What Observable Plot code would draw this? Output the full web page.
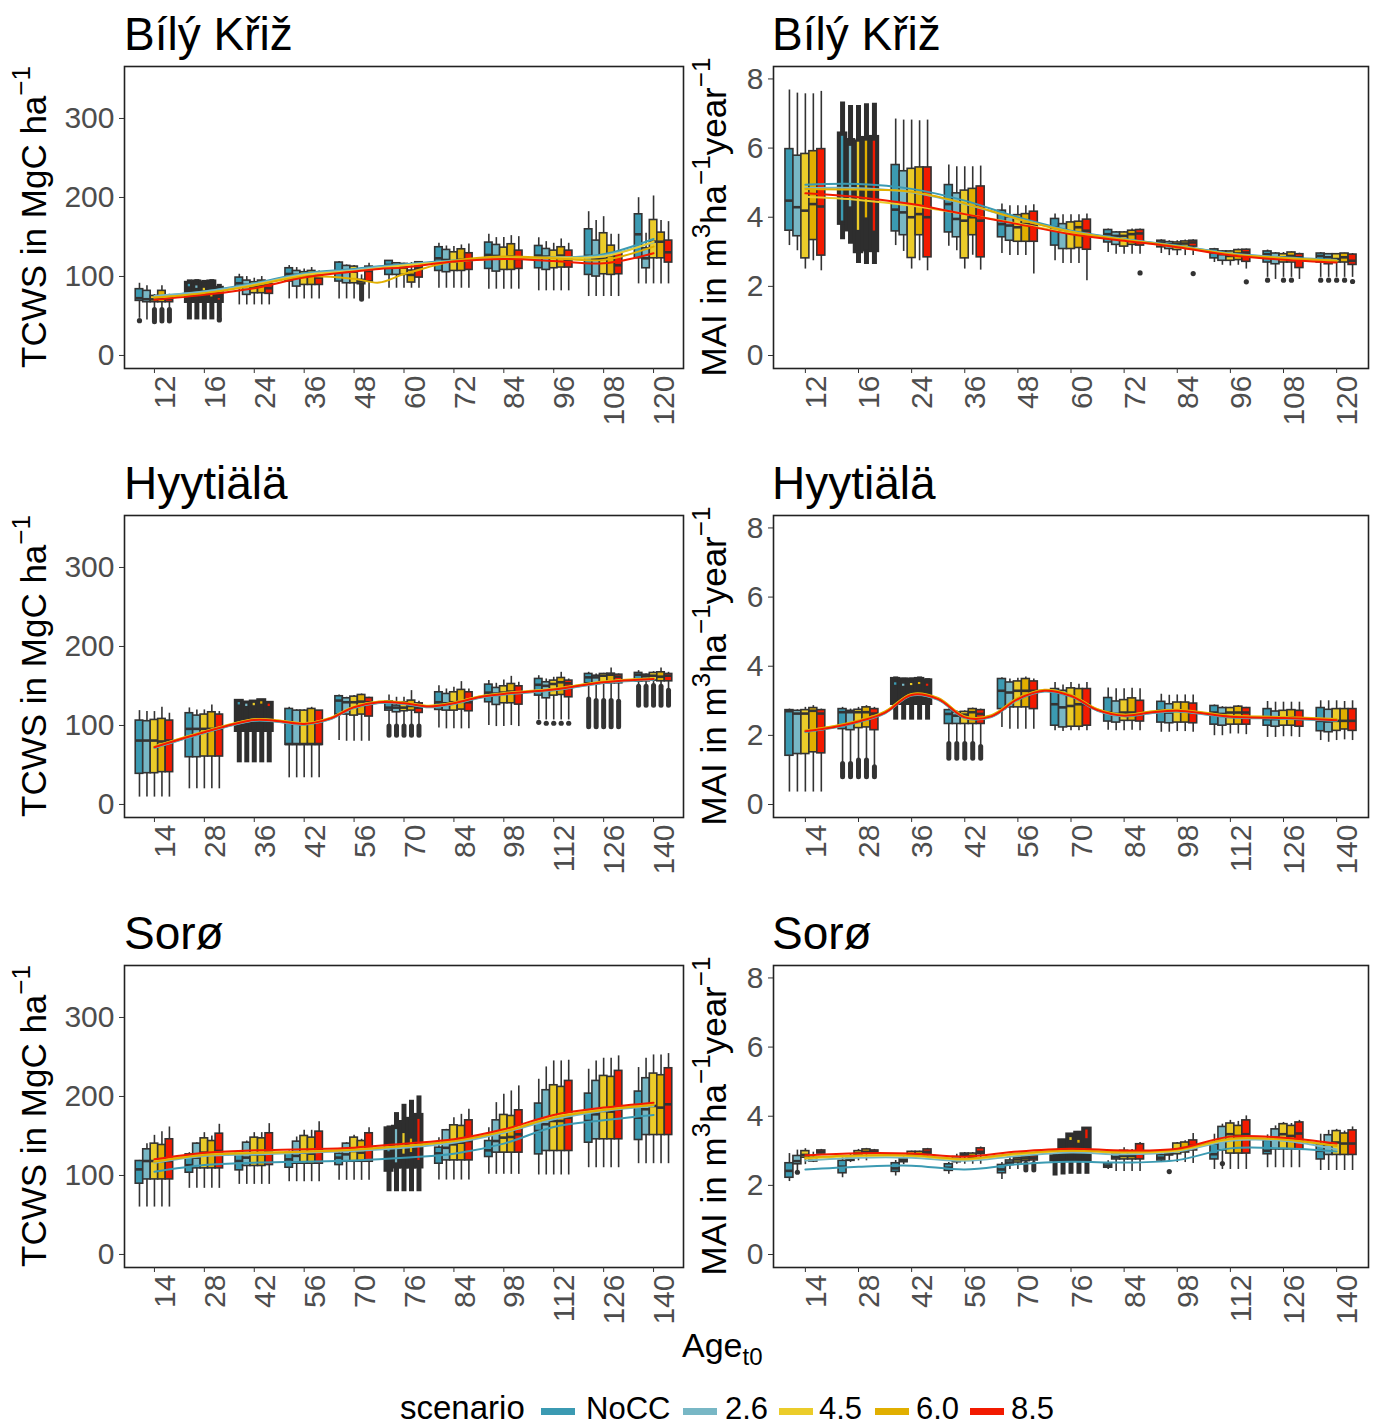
<!DOCTYPE html>
<html><head><meta charset="utf-8">
<script src="https://cdn.jsdelivr.net/npm/d3@7"></script>
<script src="https://cdn.jsdelivr.net/npm/@observablehq/plot@0.6"></script>
<style>
body{margin:0;background:#fff;}
#page{position:relative;width:1379px;height:1428px;overflow:hidden;font-family:"Liberation Sans",Arial,sans-serif;background:#fff;}
.panel{position:absolute;}
#overlay{position:absolute;left:0;top:0;}
</style></head><body><div id="page"></div>
<script>
const scenarios = ["NoCC","2.6","4.5","6.0","8.5"];
const colors = ["#3B9AB2","#78B7C5","#EBCC2A","#E1AF00","#F21A00"];
const agesBK = ["12","16","24","36","48","60","72","84","96","108","120"];
const agesHY = ["14","28","36","42","56","70","84","98","112","126","140"];
const agesSO = ["14","28","42","56","70","76","84","98","112","126","140"];
const tcwsTicks = [0,100,200,300];
const maiTicks = [0,2,4,6,8];

// box stats per age group, per scenario: [lower whisker, q1, median, q3, upper whisker]
const bkTcwsBoxes = [
 [[47,69.1,72.5,83.9,91.4],[45,67.4,71.2,81.8,88.1],[57.7,67.4,71,75.4,77],[57.7,67.4,72,81.8,88.1],[57.7,67.4,71.6,75.4,77.5]],
 [[45,67.4,78,92.3,95.7],[45,67.4,78,94,96],[45,67.4,78,92.7,95],[45,67.4,78,94,96],[45,67.4,78,86,90]],
 [[64,86,91.4,98.6,102.8],[64,76.7,89.3,94.8,99.9],[64,78.8,87.2,92.7,97.8],[64,78.8,88.5,94.8,99.9],[64,78,85.1,90.2,93.6]],
 [[71.6,93.6,103.2,110.4,113.8],[71.6,87.2,102,107,111.3],[71.6,89.3,100.7,105.4,109.6],[71.6,89.3,102,107,111.3],[71.6,89.3,98.6,104,107]],
 [[71.6,93.6,105.4,117.6,118.8],[71.6,91.4,107.5,113.4,114.6],[71.6,91.4,106,112.5,113.8],[89.3,90.2,93.6,95.7,102],[71.6,93.6,107,112.5,116.7]],
 [[85.1,102,114.6,119.7,120.1],[85.1,102,113.8,116.7,117.6],[85.1,102,111.3,115.9,116.7],[85.1,92.3,102,107.5,117.6],[85.1,98.6,110.4,118,118.8]],
 [[85.1,107,123,137,142],[85.1,105.4,120.9,133.6,138.6],[85.1,107,118.8,130.6,137.8],[85.1,107,120.9,134.4,139.9],[85.1,108.3,120,129.4,141.2]],
 [[83.9,109.6,127.3,142.9,153.4],[83.9,106.2,126,139.9,149.2],[83.9,108.3,123,136.5,149.2],[83.9,108.3,125.2,140.8,151.7],[83.9,109.6,122.2,132.7,150.4]],
 [[81.8,110.4,126.4,138.6,149],[81.8,108.3,125.2,134.8,144.1],[81.8,110.4,123.9,132.7,142],[81.8,111.3,126.4,137,147.5],[81.8,111.3,120.9,132.7,142]],
 [[74.6,102,126,159.7,182],[74.6,99.9,122.6,145.4,170.7],[74.6,102.8,122.6,154.7,175.7],[74.6,102,126.8,139,153.4],[74.6,102.8,114.2,130.2,153.4]],
 [[90.6,123,153.4,178.7,199.7],[90.6,110.4,123,135.7,154.7],[90.6,123,144.1,171.5,201.9],[90.6,123,144,155.5,170.7],[90.6,117.6,130.6,145.4,169.4]]
];
const bkMaiBoxes = [
 [[3.18,3.61,4.48,5.97,7.68],[3.03,3.45,4.29,5.78,7.59],[2.5,2.81,4.19,5.83,7.57],[2.74,3.34,4.38,5.91,7.57],[2.45,2.89,4.31,5.97,7.64]],
 [[3.35,3.8,4.4,6.43,7.33],[3.22,3.61,4.4,6.24,7.23],[2.66,2.98,4.4,6.2,7.23],[2.63,3.03,4.4,6.3,7.28],[2.63,3.01,4.4,6.33,7.3]],
 [[3.18,3.59,4.22,5.51,6.84],[3.01,3.48,4.14,5.33,6.81],[2.5,2.82,4.0,5.4,6.81],[2.74,3.48,4.09,5.44,6.79],[2.45,2.84,4.0,5.44,6.81]],
 [[3.16,3.56,4.38,4.93,5.51],[3.03,3.42,3.95,4.69,5.46],[2.5,2.81,3.9,4.77,5.46],[2.9,3.48,4.0,4.82,5.46],[2.47,2.84,3.9,4.89,5.48]],
 [[2.95,3.42,3.8,4.19,4.38],[2.89,3.32,3.76,4.0,4.33],[2.89,3.29,3.71,4.06,4.33],[2.89,3.29,3.8,4.09,4.33],[2.36,3.29,3.76,4.16,4.36]],
 [[2.74,3.18,3.71,3.95,4.09],[2.66,3.08,3.61,3.8,4.07],[2.66,3.08,3.56,3.85,4.07],[2.66,3.11,3.71,3.87,4.07],[2.16,3.06,3.61,3.93,4.09]],
 [[2.98,3.27,3.51,3.63,3.66],[2.93,3.2,3.46,3.56,3.59],[2.93,3.15,3.46,3.56,3.59],[2.93,3.2,3.51,3.61,3.66],[2.93,3.18,3.53,3.63,3.66]],
 [[2.95,3.13,3.27,3.32,3.35],[2.89,3.08,3.22,3.28,3.32],[2.89,3.05,3.22,3.27,3.32],[2.89,3.11,3.24,3.3,3.34],[2.89,3.15,3.27,3.32,3.35]],
 [[2.69,2.81,2.98,3.07,3.1],[2.61,2.74,2.93,3.01,3.03],[2.59,2.74,2.88,3.01,3.03],[2.61,2.76,2.95,3.05,3.08],[2.5,2.71,2.98,3.06,3.08]],
 [[2.26,2.69,2.93,3.01,3.05],[2.2,2.64,2.84,2.95,2.98],[2.26,2.69,2.84,2.93,2.98],[2.26,2.69,2.88,2.98,3.0],[2.2,2.53,2.84,2.93,2.96]],
 [[2.26,2.69,2.88,2.95,2.98],[2.26,2.64,2.84,2.93,2.95],[2.26,2.69,2.79,2.93,2.95],[2.26,2.69,2.84,2.95,2.96],[2.26,2.62,2.74,2.92,2.95]]
];
const hyTcwsBoxes = [
 [[9.3,38.8,80.9,106.2,118.8],[9.3,39.6,80.9,105.4,117.6],[9.3,39.6,80.9,107,117.6],[9.3,40.9,79.7,108.3,123],[9.3,40.9,80.9,106.2,115.5]],
 [[19.8,59.8,95.7,115.5,122.2],[19.8,59.8,95.7,112.5,119.7],[19.8,60.7,95.7,113.8,119.7],[19.8,60.7,95.7,116.7,126],[19.8,60.7,95.7,113.8,117.6]],
 [[52.7,92.7,110,131.5,132.3],[52.7,92.7,110,129.4,130],[52.7,92.7,110,130.6,131.5],[52.7,92.7,110,132.3,133],[52.7,92.7,110,129,130]],
 [[33.7,75.4,76.5,120.9,123],[33.7,75.4,76.5,118.8,120],[33.7,75.4,76.5,118.8,120],[33.7,75.4,76.5,120.9,123],[33.7,75.4,76.5,118.8,118.8]],
 [[80.9,113.8,131.5,137,138.6],[80,113.8,129.4,134.4,135.7],[80,112.5,129.4,136.5,137.8],[80,113.8,130.2,138.6,139.9],[80,111.3,129.4,134.8,135.7]],
 [[98.6,118.8,122.6,130.6,138.6],[98.6,116.7,122.6,125.2,135.7],[98.6,118,122.6,129.4,135.7],[98.6,118.8,124.7,131.5,144.1],[98.6,115.9,122.6,128,130.6]],
 [[96.9,119.7,129.4,142,150.4],[95.7,118.8,128.1,139.9,146.2],[95.7,118.8,129.4,142,148.3],[95.7,120.1,130.6,145,155.5],[95.7,118,129.4,142,146.2]],
 [[99.9,129.4,141.6,151.7,156.8],[98.6,126,140.3,147.5,153.4],[98.6,128.1,141.6,149.6,157.6],[99.9,128.1,142.9,152.5,162.2],[98.6,126.4,141.6,149.6,154.7]],
 [[107,137.8,151.5,158.9,163],[107,134.4,150.2,154.7,158.9],[107,137.8,152.5,156.8,161],[107,138.6,154.7,160.1,167.3],[107,135.7,153.4,156.8,158.9]],
 [[133.6,153.4,160.9,165.2,167.3],[131.5,152.5,160.9,163,165.2],[131.5,153.8,163,165.2,166],[131.5,153.4,164.3,165.6,172.8],[130.6,153.4,161.8,164.3,165.2]],
 [[149.2,155.5,164.3,166.5,169.4],[149.2,155.9,162.2,164.3,165.2],[150.4,156.8,163,166.5,168.1],[149.2,155.9,161.8,167.3,172.8],[144.1,155.9,163,165.2,167.3]]
];
const hyMaiBoxes = [
 [[0.36,1.41,2.7,2.73,2.76],[0.36,1.46,2.63,2.71,2.74],[0.36,1.46,2.63,2.73,2.81],[0.36,1.51,2.71,2.79,2.86],[0.36,1.48,2.63,2.73,2.76]],
 [[1.17,2.18,2.67,2.76,2.81],[1.17,2.15,2.67,2.71,2.76],[1.27,2.21,2.67,2.74,2.81],[1.27,2.23,2.67,2.81,2.86],[1.08,2.15,2.63,2.76,2.81]],
 [[2.44,2.9,3.1,3.64,3.69],[2.44,2.9,3.1,3.62,3.66],[2.44,2.9,3.1,3.62,3.66],[2.44,2.9,3.1,3.64,3.69],[2.44,2.9,3.1,3.6,3.64]],
 [[1.75,2.33,2.62,2.73,2.76],[1.75,2.33,2.57,2.66,2.71],[1.75,2.33,2.6,2.68,2.71],[1.75,2.33,2.67,2.76,2.79],[1.66,2.33,2.62,2.73,2.76]],
 [[2.23,2.76,3.29,3.63,3.67],[2.18,2.81,3.24,3.53,3.63],[2.18,2.81,3.29,3.56,3.65],[2.18,2.81,3.29,3.63,3.69],[2.18,2.76,3.29,3.56,3.63]],
 [[2.13,2.28,2.9,3.34,3.53],[2.11,2.23,2.81,3.29,3.46],[2.13,2.25,2.85,3.36,3.53],[2.13,2.25,2.9,3.34,3.48],[2.13,2.28,2.9,3.34,3.53]],
 [[2.15,2.4,2.66,3.08,3.37],[2.13,2.37,2.62,2.98,3.35],[2.13,2.42,2.66,3.02,3.35],[2.15,2.42,2.66,3.07,3.36],[2.13,2.4,2.62,3.0,3.35]],
 [[2.09,2.37,2.71,2.97,3.19],[2.09,2.35,2.66,2.9,3.16],[2.11,2.37,2.71,2.95,3.17],[2.11,2.37,2.69,2.95,3.17],[2.09,2.35,2.66,2.92,3.17]],
 [[1.99,2.31,2.66,2.85,2.88],[1.99,2.28,2.62,2.79,2.83],[2.04,2.31,2.66,2.79,2.81],[2.04,2.31,2.66,2.83,2.86],[2.02,2.31,2.66,2.79,2.81]],
 [[1.94,2.28,2.47,2.76,2.98],[1.94,2.25,2.47,2.69,2.96],[1.96,2.28,2.5,2.71,2.96],[1.96,2.28,2.52,2.73,2.96],[1.94,2.25,2.47,2.71,2.96]],
 [[1.85,2.12,2.42,2.79,3.0],[1.8,2.09,2.4,2.74,3.0],[1.85,2.13,2.42,2.76,3.0],[1.87,2.17,2.42,2.76,2.98],[1.85,2.13,2.42,2.76,3.0]]
];
const soTcwsBoxes = [
 [[60,89.6,107.7,118.3,119.1],[60,95,118.3,133.1,140.3],[60,95,118.3,140.3,150.8],[60,95,118.3,138.6,155.5],[60,95,118.3,145.8,161.4]],
 [[83.7,103.5,113,126.7,128.9],[83.7,109,122.6,140.3,141.5],[83.7,109,128.9,147,154.2],[83.7,109,126.7,143.6,150],[83.7,109,131,152.9,164.8]],
 [[88.7,106.5,118.3,128.9,131],[88.7,112,122.6,141.5,143.6],[88.7,112,126.7,147.9,154.2],[88.7,112,126.7,147,154.2],[88.7,113.2,131,153.4,165.6]],
 [[92.1,109.8,120.4,128.9,131],[92.1,114.9,124.8,142.8,148.7],[92.1,114.9,128.9,150,157.2],[92.1,114.9,127.6,147.9,157.2],[92.1,114.9,133.1,155.5,168.1]],
 [[93.8,113.2,122.6,127.6,128.9],[93.8,117.4,126.7,140.3,141.5],[93.8,117.4,131,147.9,150.8],[93.8,117.4,128.9,143.6,145.8],[93.8,117.4,133.1,153.4,160.5]],
 [[79.4,105.6,120,160,162.7],[79.4,109.8,125,162,179.6],[79.4,109.8,125,168,190.1],[79.4,109.8,125,172,195.2],[79.4,109.8,125,177,200.7]],
 [[94.2,114.9,128,135.2,147.9],[94.2,119.1,135,157.2,158.4],[94.2,119.1,139.4,163.5,173.2],[94.2,119.1,141.5,162.7,177.4],[94.2,119.1,143.6,169.8,183.8]],
 [[101.4,123.4,131.8,143.6,160.5],[101.4,128.9,143.6,169.8,192.2],[101.4,128.9,147.9,176.6,202.8],[101.4,128.9,148.7,175.3,207],[101.4,128.9,152.1,182.5,213.4]],
 [[100.6,126.7,156.3,191,221.8],[100.6,131,164.8,207.9,237.4],[100.6,131,169,214.2,245],[100.6,131,169,212.1,245],[100.6,131,173.2,219.7,245.9]],
 [[109.8,141.5,169,203.6,234.5],[109.8,145.8,177.4,219.7,245],[109.8,145.8,181.7,226,248.4],[109.8,145.8,180.8,224.8,248.4],[109.8,145.8,183.8,232.4,251.4]],
 [[114.9,144.9,173.2,206.2,236.6],[114.9,151.2,183.8,223.1,248.4],[114.9,151.2,188,229,252.6],[114.9,151.2,185.9,226.9,252.6],[114.9,151.2,190.1,235.7,254.3]]
];
const soMaiBoxes = [
 [[2.11,2.22,2.42,2.64,2.92],[2.42,2.61,2.7,2.85,3.02],[2.6,2.8,2.88,2.99,3.06],[2.66,2.69,2.75,2.8,2.96],[2.91,2.92,2.97,3.01,3.04]],
 [[2.22,2.35,2.54,2.71,2.85],[2.66,2.71,2.75,2.78,2.9],[2.71,2.85,2.92,2.99,3.04],[2.71,2.92,2.97,3.04,3.07],[2.91,2.92,2.97,3.01,3.04]],
 [[2.27,2.39,2.49,2.64,2.72],[2.6,2.67,2.73,2.78,2.85],[2.8,2.85,2.9,2.97,2.99],[2.85,2.85,2.9,2.97,2.99],[2.85,2.9,2.97,3.04,3.07]],
 [[2.32,2.42,2.51,2.61,2.66],[2.61,2.67,2.75,2.82,2.9],[2.61,2.85,2.9,2.92,2.95],[2.61,2.8,2.85,2.92,2.95],[2.61,2.9,2.97,3.07,3.11]],
 [[2.17,2.35,2.46,2.59,2.66],[2.46,2.59,2.66,2.72,2.8],[2.46,2.66,2.75,2.8,2.85],[2.43,2.7,2.78,2.82,2.85],[2.43,2.72,2.8,2.85,2.9]],
 [[2.27,2.71,2.78,2.85,2.9],[2.3,2.71,2.9,3.31,3.33],[2.32,2.71,2.9,3.48,3.5],[2.32,2.71,2.9,3.53,3.56],[2.32,2.71,2.9,3.65,3.67]],
 [[2.46,2.51,2.57,2.63,2.71],[2.4,2.75,2.82,2.9,2.95],[2.4,2.75,2.85,3.0,3.09],[2.4,2.75,2.85,2.95,3.04],[2.4,2.75,2.97,3.19,3.24]],
 [[2.66,2.72,2.8,2.88,2.95],[2.72,2.87,2.9,2.95,3.0],[2.66,2.9,3.0,3.21,3.24],[2.66,2.95,3.02,3.24,3.29],[2.63,3.01,3.14,3.3,3.5]],
 [[2.46,2.75,2.9,3.19,3.48],[2.46,3.01,3.29,3.69,3.77],[2.46,2.92,3.48,3.79,3.88],[2.46,2.92,3.43,3.72,3.85],[2.46,2.92,3.48,3.88,4.01]],
 [[2.51,2.9,3.0,3.29,3.46],[2.51,3.04,3.38,3.62,3.72],[2.51,3.04,3.48,3.77,3.82],[2.51,3.04,3.43,3.72,3.79],[2.51,3.04,3.5,3.82,3.88]],
 [[2.43,2.75,3.0,3.19,3.48],[2.43,2.88,3.19,3.45,3.59],[2.43,2.88,3.24,3.57,3.62],[2.43,2.88,3.21,3.5,3.57],[2.43,2.88,3.21,3.59,3.69]]
];

// outliers: ranges [group, scenario, low, high]; single points [group, scenario, value]
const bkTcwsOutRanges = [[1,2,42,57.7],[1,3,43,57.7],[1,4,43,57.7],[5,3,70.4,89.3]];
const bkTcwsOutDots = [[1,0,44],[2,4,45]];
const bkMaiOutRanges = [];
const bkMaiOutDots = [[7,4,2.39],[8,4,2.37],[9,4,2.13],[10,0,2.18],[10,2,2.18],[10,3,2.18],[11,0,2.18],[11,1,2.18],[11,2,2.18],[11,3,2.18],[11,4,2.14]];
const hyTcwsOutRanges = [[6,0,87,98.6],[6,1,87,98.6],[6,2,87,98.6],[6,3,87,98.6],[6,4,87,98.6],
 [10,0,97.8,133],[10,1,97.8,131],[10,2,97.8,131],[10,3,97.8,131],[10,4,97.8,130],
 [11,0,125,149],[11,1,125,149],[11,2,125,150],[11,3,125,149],[11,4,125,144]];
const hyTcwsOutDots = [[9,0,104],[9,1,102.8],[9,2,102.8],[9,3,102.8],[9,4,102.8]];
const hyMaiOutRanges = [[2,0,0.79,1.17],[2,1,0.79,1.17],[2,2,0.79,1.27],[2,3,0.79,1.27],[2,4,0.79,1.08],
 [4,0,1.32,1.75],[4,1,1.32,1.75],[4,2,1.32,1.75],[4,3,1.32,1.75],[4,4,1.32,1.66]];
const hyMaiOutDots = [];
const soTcwsOutRanges = [];
const soTcwsOutDots = [];
const soMaiOutRanges = [[5,3,2.43,2.62],[5,4,2.43,2.62]];
const soMaiOutDots = [[8,1,2.4],[9,1,2.63],[1,1,2.38]];

// crowded (dark) groups: index, and the visible coloured slivers [scenario, low, high]
const bkTcwsDark = 2, bkMaiDark = 2, hyTcwsDark = 3, hyMaiDark = 3, soTcwsDark = 6, soMaiDark = 6;
const bkTcwsStripes = [[0,87,90],[1,85,88],[2,82,85],[3,74,77],[4,70,72]];
const bkMaiStripes = [[0,3.89,6.34],[1,4.3,6.05],[2,3.62,6.17],[3,3.98,6.2],[4,3.6,6.2]];
const hyTcwsStripes = [[0,126,129],[1,124,127],[2,125,128],[3,127,130],[4,124,127]];
const hyMaiStripes = [[0,3.45,3.52],[1,3.42,3.48],[2,3.44,3.5],[3,3.47,3.53],[4,3.42,3.48]];
const soTcwsStripes = [[0,130,134],[1,116,158],[2,127,153],[3,129,146],[4,119,171]];
const soMaiStripes = [[2,3.3,3.38],[3,3.22,3.3],[4,3.35,3.6]];

// smoothed trend lines (group positions, then values per scenario NoCC, 2.6, 4.5, 6.0, 8.5)
const bkTcwsLineX = [1,2,3,4,5,5.5,6,7,8,9,10,11];
const bkTcwsLines = [
 [74.6,80.9,91.4,104,109.6,113,115.5,120.1,123,123.9,128.1,147.5],
 [75.4,80.9,90.6,102.8,108.3,112,114.6,119.7,123,123.9,126.4,143.3],
 [73.3,78.8,89.3,102,107,110.4,113.8,118.8,123,123.9,125.2,144.1],
 [73.3,78.8,88.5,99.9,97,92.3,103,119.7,125.2,123,121,137.8],
 [70.4,76.7,85.1,98.6,106.2,109.6,111.3,118.8,122.2,119.7,116.7,129.4]
];
const bkMaiLineX = [1,2,3,4,5,6,7,8,9,10,11];
const bkMaiLines = [
 [4.94,4.96,4.82,4.48,4.0,3.61,3.37,3.18,2.95,2.84,2.76],
 [4.84,4.84,4.72,4.38,3.95,3.59,3.36,3.17,2.94,2.83,2.74],
 [4.59,4.5,4.33,4.09,3.82,3.54,3.34,3.14,2.93,2.8,2.74],
 [4.82,4.8,4.74,4.4,3.95,3.58,3.35,3.16,2.93,2.82,2.74],
 [4.69,4.58,4.38,4.09,3.8,3.51,3.32,3.13,2.9,2.77,2.69]
];
const hyTcwsLineX = [1,2,3,3.5,4,4.5,5,5.5,6,6.5,7,7.5,8,9,10,11];
const hyTcwsLines = [
 [71.5,90.5,106,104.5,101,107.4,122,128.4,127.2,123,127.2,134.8,139,144.5,153.8,158],
 [71.8,90.8,106.4,104.8,101.4,107.8,122.4,128.8,127.5,123.3,127.5,135.1,139.3,144.8,154.1,158.3],
 [73.5,92.4,108,106.4,103,109.3,124,130.4,129.1,124.9,129.1,136.7,140.9,146.4,155.7,159.9],
 [73,92,107.6,106,102.6,108.9,123.6,130,128.7,124.5,128.7,136.3,140.5,146,155.3,159.5],
 [72.5,91.4,107,105.4,102,108.3,123,129.4,128.1,123.9,128.1,135.7,139.9,145.4,154.7,158.9]
];
const hyMaiLineX = [1,1.5,2,2.5,3,3.5,4,4.5,5,5.5,6,6.5,7,7.5,8,8.5,9,10,11];
const hyMaiLines = [
 [2.1,2.21,2.38,2.64,3.15,3.03,2.5,2.53,3.03,3.27,3.12,2.71,2.55,2.64,2.69,2.61,2.52,2.48,2.42],
 [2.11,2.22,2.39,2.65,3.16,3.04,2.51,2.54,3.04,3.28,3.13,2.72,2.56,2.65,2.7,2.62,2.53,2.49,2.43],
 [2.14,2.25,2.42,2.68,3.19,3.07,2.54,2.57,3.07,3.31,3.16,2.75,2.59,2.68,2.73,2.65,2.56,2.52,2.46],
 [2.15,2.26,2.43,2.69,3.2,3.08,2.55,2.58,3.08,3.32,3.17,2.76,2.6,2.69,2.74,2.66,2.57,2.53,2.47],
 [2.12,2.23,2.4,2.66,3.17,3.05,2.52,2.55,3.05,3.29,3.14,2.73,2.57,2.66,2.71,2.63,2.54,2.5,2.44]
];
const soTcwsLineX = [1,2,3,4,5,6,7,8,9,10,11];
const soTcwsLines = [
 [104.8,113.2,116.2,117.4,119.1,122.5,127.6,140.3,161.4,169.8,176.6],
 [116.2,124.6,126.7,128.9,131,135.2,141.5,154.2,171.1,181.7,188],
 [118.3,126.7,128.9,130.1,133.1,137.3,143.6,156.3,174.1,183.8,190.1],
 [117.4,125.9,128.4,130.1,132.7,137.3,143.6,155.5,173.2,182.9,189.3],
 [120.4,128.9,131.8,133.1,135.2,140.3,145.8,158.4,176.6,185.9,192.2]
];
const soMaiLineX = [1,2,3,4,5,6,7,8,9,10,11];
const soMaiLines = [
 [2.46,2.54,2.57,2.46,2.61,2.68,2.66,2.73,3.07,3.07,2.98],
 [2.72,2.8,2.8,2.71,2.85,2.95,2.9,2.98,3.29,3.29,3.04],
 [2.78,2.85,2.85,2.75,2.9,3.0,2.95,3.01,3.33,3.33,3.14],
 [2.8,2.87,2.87,2.77,2.93,3.01,2.97,3.04,3.35,3.33,3.14],
 [2.87,2.93,2.92,2.83,2.98,3.06,3.01,3.06,3.41,3.38,3.21]
];

const FONT = '"Liberation Sans", Arial, sans-serif';
const page = document.getElementById("page");

function makePanel(cfg) {
  const rows = [];
  cfg.boxes.forEach((grp, gi) => grp.forEach((b, k) => rows.push({
    g: gi + 1, k, s: scenarios[k], lo: b[0], q1: b[1], med: b[2], q3: b[3], hi: b[4], dark: gi + 1 === cfg.dark
  })));
  const normal = rows.filter(d => !d.dark);
  const darkRows = rows.filter(d => d.dark);
  const W = 0.15, half = W / 2;
  const xc = d => d.g + (d.k - 2) * W;
  const stripeRows = cfg.stripes.map(([k, y1, y2]) => ({g: cfg.dark, k, s: scenarios[k], y1, y2}));
  const oRanges = cfg.outRanges.map(([g, k, y1, y2]) => ({g, k, y1, y2}));
  const oDots = cfg.outDots.map(([g, k, v]) => ({g, k, v}));
  const lineRows = [];
  cfg.lines.forEach((arr, k) => arr.forEach((v, j) => lineRows.push({x: cfg.lineX[j], v, s: scenarios[k]})));
  const mL = 80, mR = 6, mT = 6, mB = 70;
  const chart = Plot.plot({
    width: cfg.fw + mL + mR, height: cfg.fh + mT + mB,
    marginLeft: mL, marginRight: mR, marginTop: mT, marginBottom: mB,
    style: {fontFamily: FONT, background: "transparent", overflow: "visible"},
    x: {domain: [0.4, 11.6], axis: null, label: null},
    y: {domain: cfg.yDomain, axis: null, label: null},
    color: {domain: scenarios, range: colors},
    marks: [
      Plot.ruleX(normal, {x: xc, y1: "lo", y2: "hi", stroke: "#333", strokeWidth: 1.6}),
      Plot.ruleX(darkRows, {x: xc, y1: "lo", y2: "hi", stroke: "#2e2e2e", strokeWidth: 5}),
      Plot.ruleX(oRanges, {x: xc, y1: "y1", y2: "y2", stroke: "#333", strokeWidth: 5, strokeLinecap: "round"}),
      Plot.dot(oDots, {x: xc, y: "v", r: 2.6, fill: "#333"}),
      Plot.rect(normal, {x1: d => xc(d) - half, x2: d => xc(d) + half, y1: "q1", y2: "q3", fill: "s", stroke: "#333", strokeWidth: 1.6}),
      Plot.ruleY(normal, {y: "med", x1: d => xc(d) - half, x2: d => xc(d) + half, stroke: "#333", strokeWidth: 2.6}),
      Plot.rect(darkRows, {x1: d => xc(d) - half, x2: d => xc(d) + half, y1: "q1", y2: "q3", fill: "#2e2e2e", stroke: "#2e2e2e", strokeWidth: 2.5}),
      Plot.rect(stripeRows, {x1: d => xc(d) - 0.022, x2: d => xc(d) + 0.022, y1: "y1", y2: "y2", fill: "s"}),
      Plot.line(lineRows, {x: "x", y: "v", z: "s", stroke: "s", strokeWidth: 2, curve: "catmull-rom"}),
      Plot.frame({stroke: "#222", strokeWidth: 1.6}),
      Plot.axisY({ticks: cfg.yTicks, tickSize: 5, tickPadding: 5, fontSize: 30, stroke: "#333", fill: "#4d4d4d", label: null}),
      Plot.axisX({ticks: d3.range(1, 12), tickSize: 5, tickFormat: () => "", stroke: "#333", label: null}),
      Plot.axisX({ticks: d3.range(1, 12), tickSize: 0, tickPadding: 7, tickRotate: -90, dx: 11, fontSize: 30, fill: "#4d4d4d", label: null, tickFormat: i => cfg.ages[i - 1]})
    ]
  });
  const div = document.createElement("div");
  div.className = "panel";
  div.style.left = (cfg.fx - mL) + "px";
  div.style.top = (cfg.fy - mT) + "px";
  div.appendChild(chart);
  page.appendChild(div);
}

const tcwsDomain = [-16.5, 365.8];
const maiDomain = [-0.376, 8.36];
const LX = 124, LW = 559, RX = 773, RW = 595, FH = 302;
const rowsY = [66, 515, 965];

const panels = [
  {boxes: bkTcwsBoxes, dark: bkTcwsDark, stripes: bkTcwsStripes, outRanges: bkTcwsOutRanges, outDots: bkTcwsOutDots, lineX: bkTcwsLineX, lines: bkTcwsLines, ages: agesBK, yDomain: tcwsDomain, yTicks: tcwsTicks, fx: LX, fw: LW, fy: rowsY[0], fh: FH},
  {boxes: bkMaiBoxes, dark: bkMaiDark, stripes: bkMaiStripes, outRanges: bkMaiOutRanges, outDots: bkMaiOutDots, lineX: bkMaiLineX, lines: bkMaiLines, ages: agesBK, yDomain: maiDomain, yTicks: maiTicks, fx: RX, fw: RW, fy: rowsY[0], fh: FH},
  {boxes: hyTcwsBoxes, dark: hyTcwsDark, stripes: hyTcwsStripes, outRanges: hyTcwsOutRanges, outDots: hyTcwsOutDots, lineX: hyTcwsLineX, lines: hyTcwsLines, ages: agesHY, yDomain: tcwsDomain, yTicks: tcwsTicks, fx: LX, fw: LW, fy: rowsY[1], fh: FH},
  {boxes: hyMaiBoxes, dark: hyMaiDark, stripes: hyMaiStripes, outRanges: hyMaiOutRanges, outDots: hyMaiOutDots, lineX: hyMaiLineX, lines: hyMaiLines, ages: agesHY, yDomain: maiDomain, yTicks: maiTicks, fx: RX, fw: RW, fy: rowsY[1], fh: FH},
  {boxes: soTcwsBoxes, dark: soTcwsDark, stripes: soTcwsStripes, outRanges: soTcwsOutRanges, outDots: soTcwsOutDots, lineX: soTcwsLineX, lines: soTcwsLines, ages: agesSO, yDomain: tcwsDomain, yTicks: tcwsTicks, fx: LX, fw: LW, fy: rowsY[2], fh: FH},
  {boxes: soMaiBoxes, dark: soMaiDark, stripes: soMaiStripes, outRanges: soMaiOutRanges, outDots: soMaiOutDots, lineX: soMaiLineX, lines: soMaiLines, ages: agesSO, yDomain: maiDomain, yTicks: maiTicks, fx: RX, fw: RW, fy: rowsY[2], fh: FH}
];
panels.forEach(makePanel);

// titles, axis titles, legend
const siteTitles = ["Bílý Křiž", "Hyytiälä", "Sorø"];
let svg = `<svg id="overlay" width="1379" height="1428" font-family='${FONT}'>`;
rowsY.forEach((fy, r) => {
  svg += `<text x="${LX}" y="${fy - 16}" font-size="46" fill="#000">${siteTitles[r]}</text>`;
  svg += `<text x="${RX - 1}" y="${fy - 16}" font-size="46" fill="#000">${siteTitles[r]}</text>`;
  const cy = fy + FH / 2;
  svg += `<text transform="translate(46,${cy}) rotate(-90)" text-anchor="middle" font-size="35" fill="#000">TCWS in MgC ha<tspan font-size="26" dy="-16">−1</tspan></text>`;
  svg += `<text transform="translate(726,${cy}) rotate(-90)" text-anchor="middle" font-size="35" fill="#000">MAI in m<tspan font-size="26" dy="-16">3</tspan><tspan dy="16">ha</tspan><tspan font-size="26" dy="-16">−1</tspan><tspan dy="16">year</tspan><tspan font-size="26" dy="-16">−1</tspan></text>`;
});
svg += `<text x="682" y="1357" font-size="34" fill="#000">Age<tspan font-size="24" dy="8">t0</tspan></text>`;
svg += `<text x="400" y="1419" font-size="33" fill="#000">scenario</text>`;
const swX = [541, 683, 779, 875, 970];
const lbX = [586, 725, 819, 916, 1011];
scenarios.forEach((s, i) => {
  svg += `<rect x="${swX[i]}" y="1408" width="34" height="7" fill="${colors[i]}"/>`;
  svg += `<text x="${lbX[i]}" y="1419" font-size="31" fill="#000">${s}</text>`;
});
svg += `</svg>`;
page.insertAdjacentHTML("beforeend", svg);
</script></body></html>
